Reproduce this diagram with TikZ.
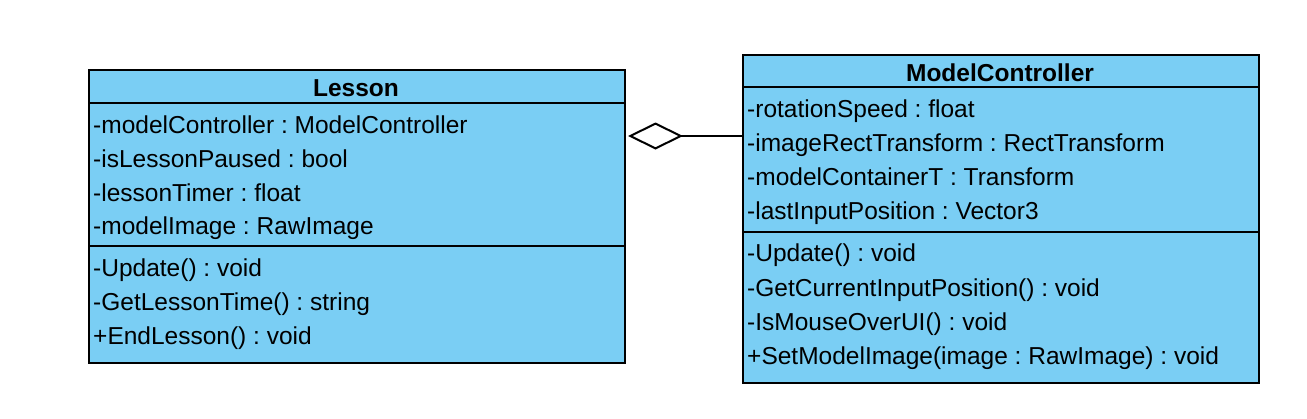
\documentclass[tikz,border=0pt]{standalone}
\usepackage{fontspec}
\setmainfont{Liberation Sans}
\usetikzlibrary{arrows.meta}
\definecolor{classblue}{HTML}{7ACEF4}
\frenchspacing
\tikzset{
  classbox/.style={draw=black, line width=2pt, fill=classblue, rectangle, inner sep=0pt, anchor=north west},
  member/.style={anchor=base west, inner sep=0pt, font=\fontsize{24.5}{28}\selectfont\frenchspacing},
  title/.style={anchor=base, inner sep=0pt, font=\fontsize{24.5}{28}\selectfont\bfseries},
  sep/.style={line width=2pt},
  agg/.style={line width=2pt, {Diamond[open, length=55pt, width=27pt, line width=2pt]}-}
}
\begin{document}
\begin{tikzpicture}[x=1pt, y=-1pt]
\useasboundingbox (0,0) rectangle (1307,418);
% Lesson
\node[classbox, minimum width=536pt, minimum height=293pt] (lesson) at (88,69) {};
\draw[sep] (88,102.5) -- (624,102.5);
\draw[sep] (88,246) -- (624,246);
\node[title] (lt) at (356,96.7) {Lesson};
\node[member] (l1) at (93,133.3) {-modelController : ModelController};
\node[member] (l2) at (93,167.3) {-isLessonPaused : bool};
\node[member] (l3) at (93,201) {-lessonTimer : float};
\node[member] (l4) at (93,234.5) {-modelImage : RawImage};
\node[member] (l5) at (93,276.7) {-Update() : void};
\node[member] (l6) at (93,310.3) {-GetLessonTime() : string};
\node[member] (l7) at (93,344) {+EndLesson() : void};
% ModelController
\node[classbox, minimum width=516pt, minimum height=328pt] (mc) at (742,54) {};
\draw[sep] (742,87) -- (1258,87);
\draw[sep] (742,232) -- (1258,232);
\node[title] (mt) at (1000,81.7) {ModelController};
\node[member] (m1) at (747,117.8) {-rotationSpeed : float};
\node[member] (m2) at (747,151.6) {-imageRectTransform : RectTransform};
\node[member] (m3) at (747,185.5) {-modelContainerT : Transform};
\node[member] (m4) at (747,219.3) {-lastInputPosition : Vector3};
\node[member] (m5) at (747,261.7) {-Update() : void};
\node[member] (m6) at (747,296) {-GetCurrentInputPosition() : void};
\node[member] (m7) at (747,330) {-IsMouseOverUI() : void};
\node[member] (m8) at (747,364) {+SetModelImage(image : RawImage) : void};
% aggregation
\coordinate (aggend) at (628,136);
\draw[agg] (aggend) -- (mc.west |- aggend);
\end{tikzpicture}
\end{document}
